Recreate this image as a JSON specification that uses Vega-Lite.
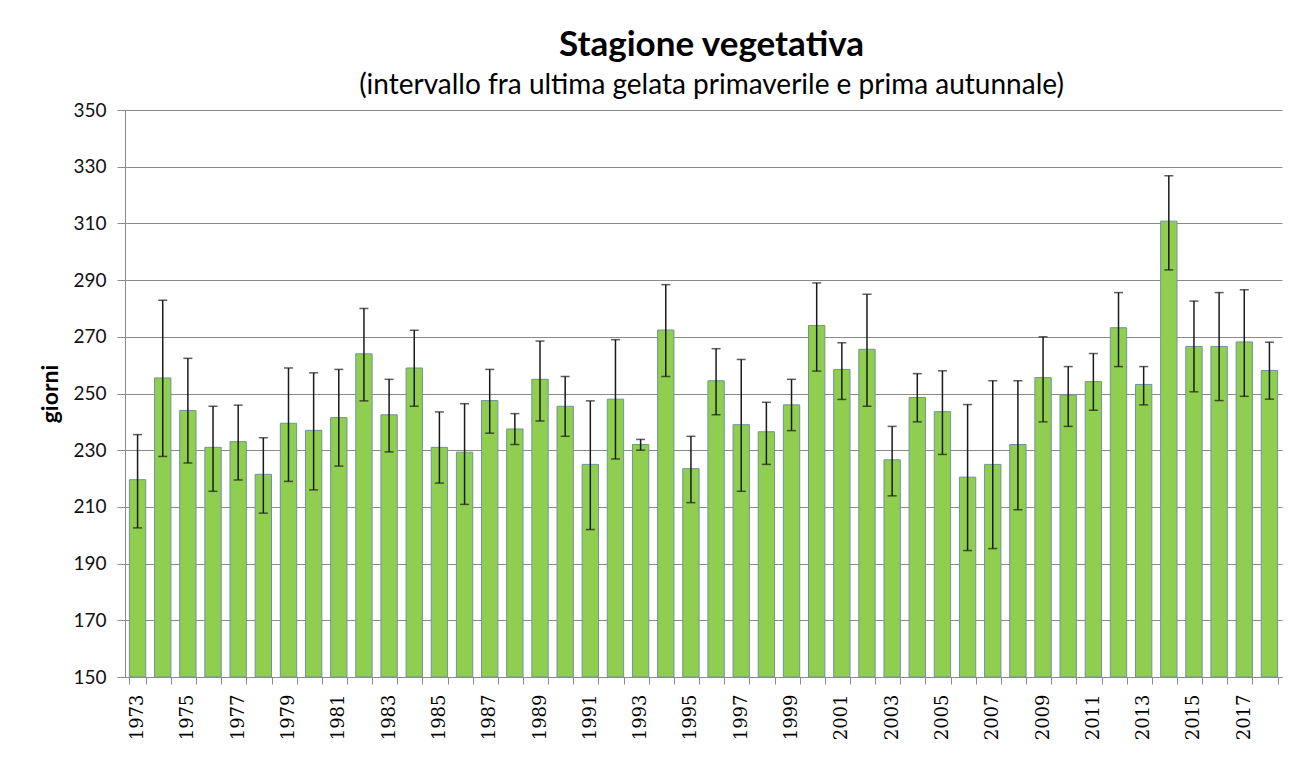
{
  "$schema": "https://vega.github.io/schema/vega-lite/v6.json",
  "width": 1157,
  "height": 567,
  "autosize": {"type": "none"},
  "padding": {"left": 125, "top": 110, "right": 24, "bottom": 94},
  "background": "white",
  "config": {"view": {"stroke": null}},
  "title": {
    "text": "Stagione vegetativa",
    "subtitle": "(intervallo fra ultima gelata primaverile e prima autunnale)",
    "font": "Lato",
    "fontSize": 35,
    "fontWeight": "bold",
    "color": "#000000",
    "subtitleFont": "Lato",
    "subtitleFontSize": 28,
    "subtitleColor": "#000000",
    "anchor": "middle",
    "offset": 1,
    "subtitlePadding": 9,
    "dx": 8
  },
  "data": {
    "values": [
      {"year": 1973, "value": 219.6, "lo": 202.6, "hi": 235.5},
      {"year": 1974, "value": 255.5, "lo": 227.8, "hi": 282.9},
      {"year": 1975, "value": 244.0, "lo": 225.5, "hi": 262.4},
      {"year": 1976, "value": 231.0, "lo": 215.5, "hi": 245.5},
      {"year": 1977, "value": 233.0, "lo": 219.5, "hi": 245.9},
      {"year": 1978, "value": 221.5, "lo": 207.8, "hi": 234.4},
      {"year": 1979, "value": 239.5, "lo": 219.0, "hi": 259.0},
      {"year": 1980, "value": 237.0, "lo": 216.0, "hi": 257.3},
      {"year": 1981, "value": 241.5, "lo": 224.4, "hi": 258.5},
      {"year": 1982, "value": 264.0, "lo": 247.4, "hi": 280.0},
      {"year": 1983, "value": 242.5, "lo": 229.4, "hi": 255.0},
      {"year": 1984, "value": 259.0, "lo": 245.5, "hi": 272.3},
      {"year": 1985, "value": 231.0, "lo": 218.4, "hi": 243.5},
      {"year": 1986, "value": 229.3, "lo": 210.9, "hi": 246.4},
      {"year": 1987, "value": 247.5, "lo": 236.0, "hi": 258.5},
      {"year": 1988, "value": 237.5, "lo": 232.0, "hi": 242.9},
      {"year": 1989, "value": 255.0, "lo": 240.3, "hi": 268.5},
      {"year": 1990, "value": 245.5, "lo": 234.9, "hi": 256.0},
      {"year": 1991, "value": 225.0, "lo": 202.0, "hi": 247.4},
      {"year": 1992, "value": 248.0, "lo": 226.9, "hi": 269.0},
      {"year": 1993, "value": 232.0, "lo": 230.0, "hi": 233.8},
      {"year": 1994, "value": 272.4, "lo": 256.0, "hi": 288.4},
      {"year": 1995, "value": 223.5, "lo": 211.5, "hi": 234.9},
      {"year": 1996, "value": 254.5, "lo": 242.5, "hi": 265.8},
      {"year": 1997, "value": 239.0, "lo": 215.5, "hi": 262.0},
      {"year": 1998, "value": 236.5, "lo": 225.0, "hi": 246.9},
      {"year": 1999, "value": 246.0, "lo": 236.9, "hi": 255.0},
      {"year": 2000, "value": 274.0, "lo": 257.9, "hi": 289.0},
      {"year": 2001, "value": 258.5, "lo": 247.9, "hi": 267.9},
      {"year": 2002, "value": 265.6, "lo": 245.5, "hi": 285.0},
      {"year": 2003, "value": 226.6, "lo": 213.9, "hi": 238.4},
      {"year": 2004, "value": 248.6, "lo": 240.0, "hi": 257.0},
      {"year": 2005, "value": 243.6, "lo": 228.5, "hi": 258.0},
      {"year": 2006, "value": 220.5, "lo": 194.6, "hi": 246.1},
      {"year": 2007, "value": 225.0, "lo": 195.3, "hi": 254.5},
      {"year": 2008, "value": 232.0, "lo": 209.0, "hi": 254.5},
      {"year": 2009, "value": 255.6, "lo": 240.0, "hi": 270.0},
      {"year": 2010, "value": 249.4, "lo": 238.4, "hi": 259.5},
      {"year": 2011, "value": 254.2, "lo": 244.1, "hi": 264.1},
      {"year": 2012, "value": 273.2, "lo": 259.5, "hi": 285.6},
      {"year": 2013, "value": 253.2, "lo": 246.0, "hi": 259.5},
      {"year": 2014, "value": 310.8, "lo": 293.6, "hi": 326.8},
      {"year": 2015, "value": 266.6, "lo": 250.6, "hi": 282.6},
      {"year": 2016, "value": 266.6, "lo": 247.5, "hi": 285.6},
      {"year": 2017, "value": 268.2, "lo": 249.0, "hi": 286.6},
      {"year": 2018, "value": 258.1, "lo": 248.0, "hi": 268.1}
    ]
  },
  "encoding": {
    "x": {
      "field": "year",
      "type": "ordinal",
      "scale": {"paddingInner": 0.35, "paddingOuter": 0.175},
      "axis": {
        "title": null,
        "tickBand": "extent",
        "labelExpr": "datum.value % 2 == 1 ? datum.label : ''",
        "labelOverlap": false,
        "labelAngle": -90,
        "labelAlign": "right",
        "labelBaseline": "middle",
        "labelFont": "DejaVu Serif",
        "labelFontSize": 18,
        "labelColor": "#000000",
        "labelPadding": 10,
        "tickSize": 7,
        "tickColor": "#8a8a8a",
        "domainColor": "#8a8a8a",
        "grid": false
      }
    }
  },
  "layer": [
    {
      "mark": {"type": "bar", "fill": "#8fce4f", "stroke": "#6f949c", "strokeWidth": 1},
      "encoding": {
        "y": {
          "field": "value",
          "type": "quantitative",
          "title": "giorni",
          "scale": {"domain": [150, 350], "nice": false, "zero": false},
          "axis": {
            "values": [150, 170, 190, 210, 230, 250, 270, 290, 310, 330, 350],
            "grid": true,
            "gridColor": "#8a8a8a",
            "gridWidth": 1,
            "domainColor": "#8a8a8a",
            "tickColor": "#8a8a8a",
            "tickSize": 8,
            "labelFont": "Lato",
            "labelFontSize": 19,
            "labelColor": "#111111",
            "labelPadding": 11,
            "titleFont": "Lato",
            "titleFontSize": 23,
            "titleFontWeight": "bold",
            "titleColor": "#000000",
            "titlePadding": 10
          }
        },
        "y2": {"datum": 150}
      }
    },
    {
      "mark": {"type": "rule", "color": "#1a1a1a", "strokeWidth": 1.5},
      "encoding": {
        "y": {"field": "lo", "type": "quantitative", "title": "giorni"},
        "y2": {"field": "hi"}
      }
    },
    {
      "mark": {"type": "tick", "color": "#1a1a1a", "size": 9, "thickness": 1.5},
      "encoding": {
        "y": {"field": "lo", "type": "quantitative", "title": "giorni"}
      }
    },
    {
      "mark": {"type": "tick", "color": "#1a1a1a", "size": 9, "thickness": 1.5},
      "encoding": {
        "y": {"field": "hi", "type": "quantitative", "title": "giorni"}
      }
    }
  ]
}
